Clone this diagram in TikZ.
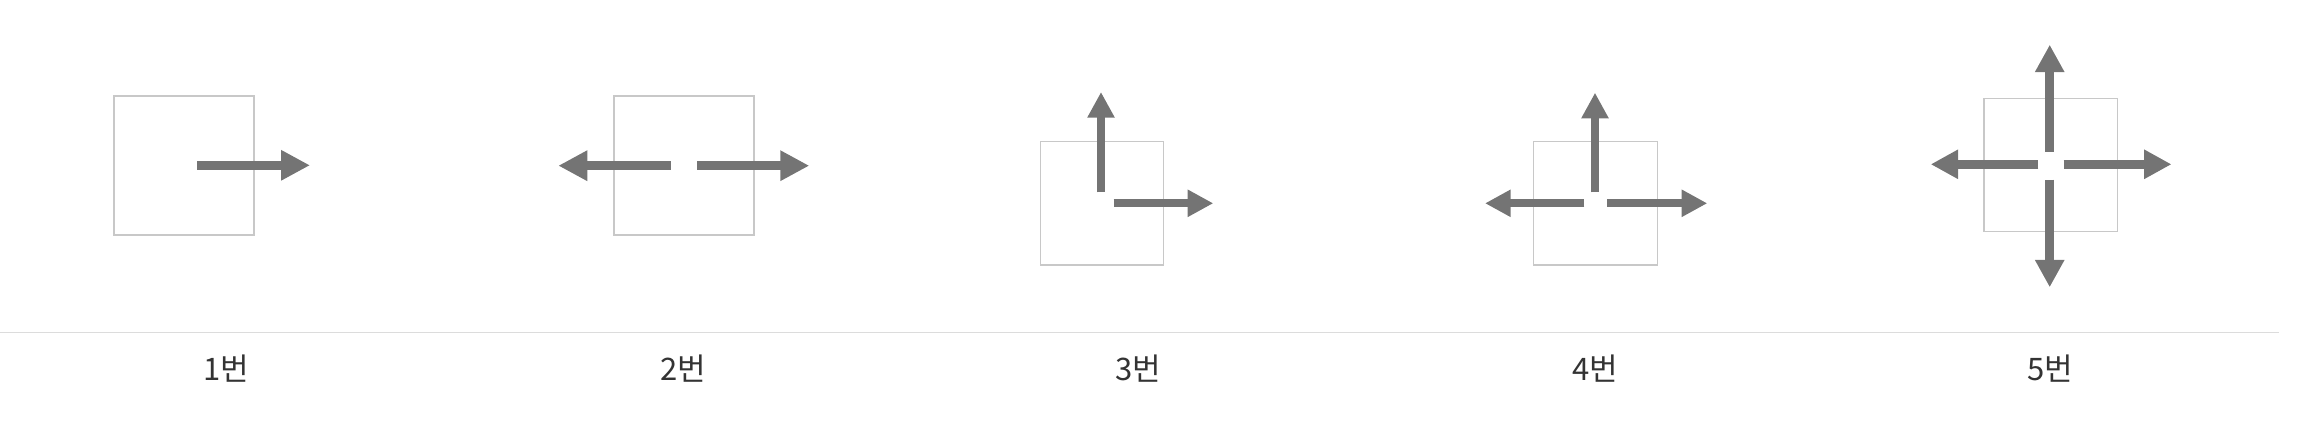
\documentclass[tikz,border=0pt]{standalone}
\usepackage{fontspec}
\newfontfamily\kr{Noto Sans CJK KR}
\usetikzlibrary{arrows.meta}
\definecolor{arrowgray}{HTML}{747474}
\definecolor{boxgray}{HTML}{C8C8C8}
\definecolor{sepgray}{HTML}{DCDCDC}
\definecolor{labelgray}{HTML}{333333}
\tikzset{
  panelbox/.style={draw=boxgray, line width=0.6pt, inner sep=0pt, fill=none},
  bigarrow/.style={draw=arrowgray, line width=4.5pt,
    -{Triangle[length=14.5pt, width=14.3pt, fill=arrowgray]}},
  smallarrow/.style={draw=arrowgray, line width=3.9pt,
    -{Triangle[length=12.8pt, width=12.8pt, fill=arrowgray]}},
  midarrow/.style={draw=arrowgray, line width=4.5pt,
    -{Triangle[length=13.75pt, width=13.85pt, fill=arrowgray]}},
  sepline/.style={draw=sepgray, line width=0.75pt},
  numlabel/.style={text=labelgray, font=\kr\fontsize{15.5pt}{17pt}\selectfont, inner sep=0pt, anchor=center}
}
\begin{document}
\begin{tikzpicture}[x=0.5pt, y=-0.5pt]
\useasboundingbox (0,0) rectangle (2298,432);

% Panel 1
\node[panelbox, minimum width=70pt, minimum height=69.5pt] (b1) at (184,165.5) {};
\coordinate (a1s) at (197,165.3);
\coordinate (a1e) at (310,165.3);
\draw[bigarrow] (a1s) -- (a1e);

% Panel 2
\node[panelbox, minimum width=70pt, minimum height=69.5pt] (b2) at (684,165.5) {};
\coordinate (a2ls) at (670.7,165.7);
\coordinate (a2le) at (558.3,165.7);
\coordinate (a2rs) at (697,165.7);
\coordinate (a2re) at (809.3,165.7);
\draw[bigarrow] (a2ls) -- (a2le);
\draw[bigarrow] (a2rs) -- (a2re);

% Panel 3
\node[panelbox, minimum width=61.7pt, minimum height=61.7pt] (b3) at (1102,203.3) {};
\coordinate (a3us) at (1101,192.3);
\coordinate (a3ue) at (1101,92);
\coordinate (a3rs) at (1113.7,203.3);
\coordinate (a3re) at (1213.3,203.3);
\draw[smallarrow] (a3us) -- (a3ue);
\draw[smallarrow] (a3rs) -- (a3re);

% Panel 4
\node[panelbox, minimum width=62pt, minimum height=61.7pt] (b4) at (1595.7,203.3) {};
\coordinate (a4us) at (1595,192.3);
\coordinate (a4ue) at (1595,92.7);
\coordinate (a4ls) at (1584.3,203.3);
\coordinate (a4le) at (1485,203.3);
\coordinate (a4rs) at (1607.3,203.3);
\coordinate (a4re) at (1707.3,203.3);
\draw[smallarrow] (a4us) -- (a4ue);
\draw[smallarrow] (a4ls) -- (a4le);
\draw[smallarrow] (a4rs) -- (a4re);

% Panel 5
\node[panelbox, minimum width=66.7pt, minimum height=66.5pt] (b5) at (2050.7,164.8) {};
\coordinate (a5us) at (2049.7,152);
\coordinate (a5ue) at (2049.7,44.7);
\coordinate (a5ds) at (2049.7,179.7);
\coordinate (a5de) at (2049.7,287.3);
\coordinate (a5ls) at (2038.3,164.3);
\coordinate (a5le) at (1930.7,164.3);
\coordinate (a5rs) at (2063.7,164.3);
\coordinate (a5re) at (2171.5,164.3);
\draw[midarrow] (a5us) -- (a5ue);
\draw[midarrow] (a5ds) -- (a5de);
\draw[midarrow] (a5ls) -- (a5le);
\draw[midarrow] (a5rs) -- (a5re);

% Separator
\coordinate (sepl) at (0,332.7);
\coordinate (sepr) at (2279,332.7);
\draw[sepline] (sepl) -- (sepr);

% Labels
\node[numlabel] (l1) at (226.5,369) {1번};
\node[numlabel] (l2) at (683,369) {2번};
\node[numlabel] (l3) at (1138,369) {3번};
\node[numlabel] (l4) at (1595,369) {4번};
\node[numlabel] (l5) at (2050,369) {5번};
\end{tikzpicture}
\end{document}
